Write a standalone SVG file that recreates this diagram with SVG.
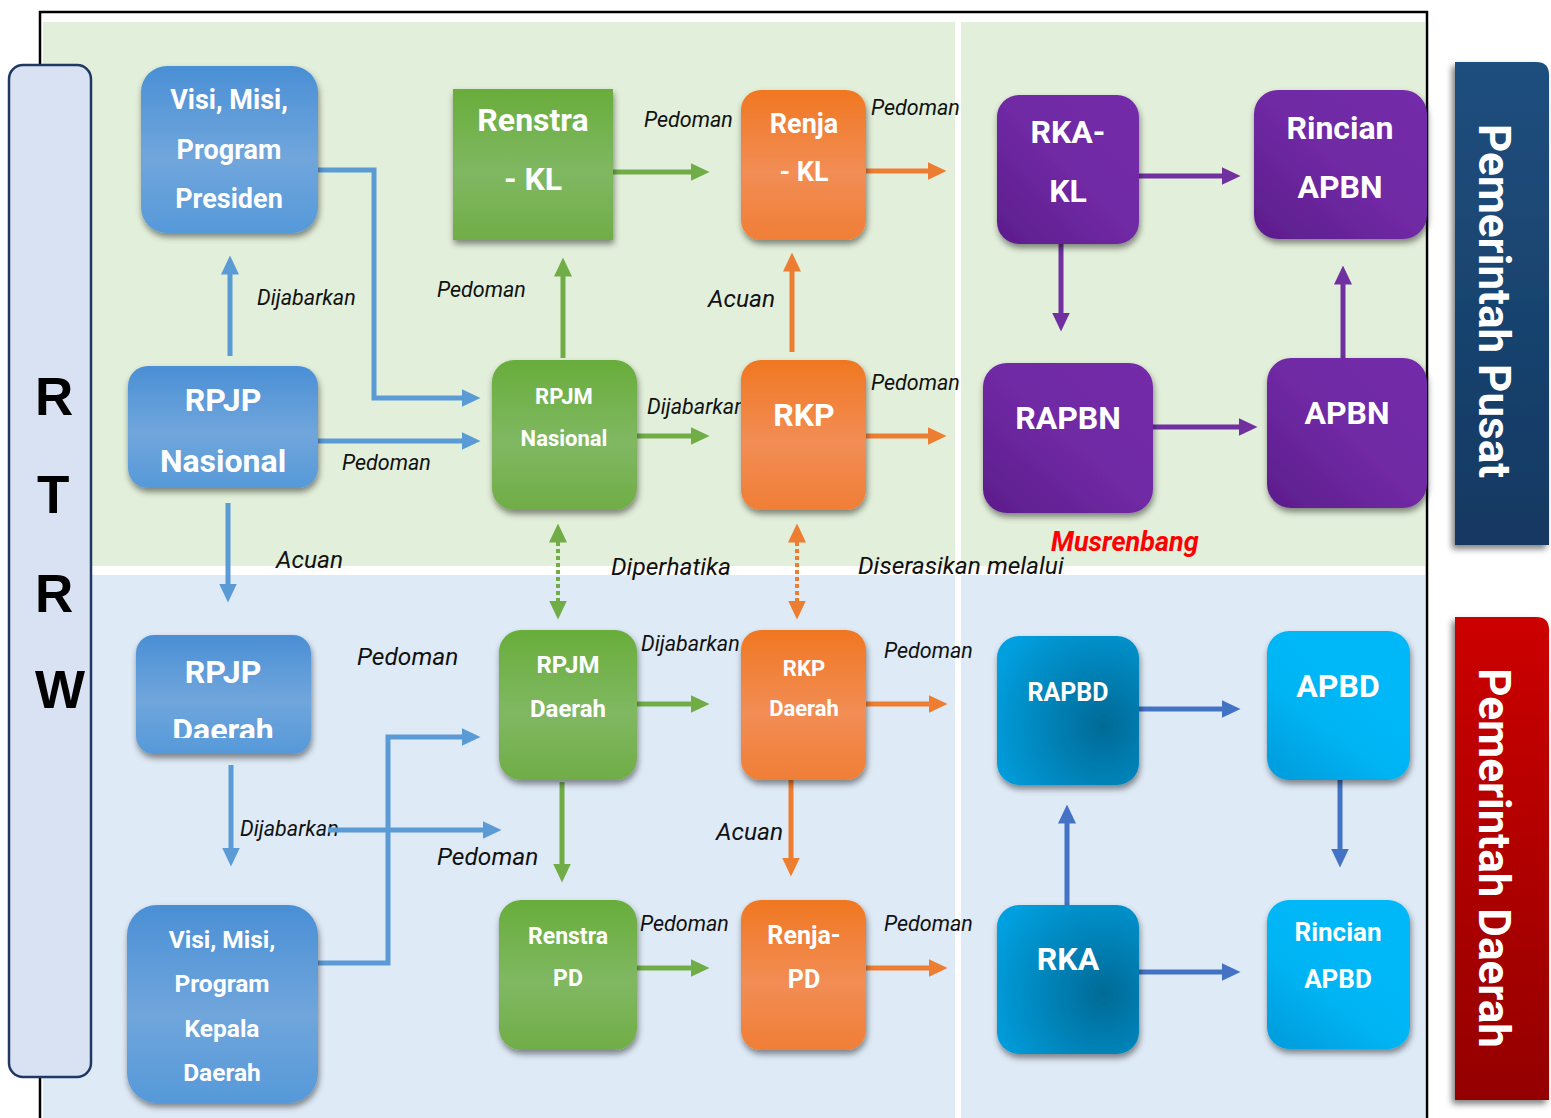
<svg xmlns="http://www.w3.org/2000/svg" width="1551" height="1118" viewBox="0 0 1551 1118">
<style>
.nt{font-family:Roboto,"Liberation Sans",sans-serif;font-weight:bold;fill:#fff;text-anchor:middle}
.lbl{font-family:Roboto,"Liberation Sans",sans-serif;font-style:italic;fill:#111}
.c{fill:none;stroke-width:5}
.cb{stroke:#5b9bd5;marker-end:url(#aB)}
.cg{stroke:#70ad47;marker-end:url(#aG)}
.co{stroke:#ed7d31;marker-end:url(#aO)}
.cp{stroke:#7030a0;marker-end:url(#aP)}
.cd{stroke:#4472c4;marker-end:url(#aD)}
.dot{fill:none;stroke-width:4;stroke-dasharray:4 3}
.rtrw{font-family:"Liberation Sans",Arial,sans-serif;font-weight:bold;font-size:53px;fill:#000}
.ban{font-family:Roboto,"Liberation Sans",sans-serif;font-weight:bold;font-size:44px;fill:#fff;text-anchor:middle}
</style>
<defs>
<marker id="aB" viewBox="0 0 19 18" markerWidth="19" markerHeight="18" refX="0.5" refY="9" markerUnits="userSpaceOnUse" orient="auto-start-reverse"><path d="M0,0 L19,9 L0,18 z" fill="#5b9bd5"/></marker>
<marker id="aG" viewBox="0 0 19 18" markerWidth="19" markerHeight="18" refX="0.5" refY="9" markerUnits="userSpaceOnUse" orient="auto-start-reverse"><path d="M0,0 L19,9 L0,18 z" fill="#70ad47"/></marker>
<marker id="aO" viewBox="0 0 19 18" markerWidth="19" markerHeight="18" refX="0.5" refY="9" markerUnits="userSpaceOnUse" orient="auto-start-reverse"><path d="M0,0 L19,9 L0,18 z" fill="#ed7d31"/></marker>
<marker id="aP" viewBox="0 0 19 18" markerWidth="19" markerHeight="18" refX="0.5" refY="9" markerUnits="userSpaceOnUse" orient="auto-start-reverse"><path d="M0,0 L19,9 L0,18 z" fill="#7030a0"/></marker>
<marker id="aD" viewBox="0 0 19 18" markerWidth="19" markerHeight="18" refX="0.5" refY="9" markerUnits="userSpaceOnUse" orient="auto-start-reverse"><path d="M0,0 L19,9 L0,18 z" fill="#4472c4"/></marker>
<filter id="sh" x="-20%" y="-20%" width="140%" height="140%"><feDropShadow dx="1" dy="4" stdDeviation="3" flood-color="#000" flood-opacity="0.45"/></filter>
<filter id="shb" x="-20%" y="-10%" width="140%" height="120%"><feDropShadow dx="-3" dy="4" stdDeviation="3" flood-color="#000" flood-opacity="0.5"/></filter>
<linearGradient id="gBlue" x1="0" y1="0" x2="0" y2="1"><stop offset="0" stop-color="#4a8fd5"/><stop offset="0.55" stop-color="#70a6dc"/><stop offset="1" stop-color="#5699d9"/></linearGradient>
<linearGradient id="gGreen" x1="0" y1="0" x2="0" y2="1"><stop offset="0" stop-color="#68ad3b"/><stop offset="0.55" stop-color="#80b862"/><stop offset="1" stop-color="#70ad47"/></linearGradient>
<linearGradient id="gOrange" x1="0" y1="0" x2="0" y2="1"><stop offset="0" stop-color="#f07722"/><stop offset="0.55" stop-color="#f28d55"/><stop offset="1" stop-color="#f07e36"/></linearGradient>
<linearGradient id="gPurple" x1="1" y1="0" x2="0" y2="1"><stop offset="0" stop-color="#7429a9"/><stop offset="0.5" stop-color="#7029a4"/><stop offset="1" stop-color="#5c1d8b"/></linearGradient>
<radialGradient id="gTeal" cx="0.75" cy="0.6" r="0.85"><stop offset="0" stop-color="#006a96"/><stop offset="1" stop-color="#00a0e0"/></radialGradient>
<linearGradient id="gCyan" x1="0.7" y1="0.3" x2="0.2" y2="1"><stop offset="0" stop-color="#00b8f8"/><stop offset="0.5" stop-color="#00b4f3"/><stop offset="1" stop-color="#009fdf"/></linearGradient>
<linearGradient id="gBanB" x1="0" y1="0" x2="0" y2="1"><stop offset="0" stop-color="#1e4f7e"/><stop offset="1" stop-color="#143862"/></linearGradient>
<linearGradient id="gBanR" x1="0" y1="0" x2="0" y2="1"><stop offset="0" stop-color="#cc0000"/><stop offset="1" stop-color="#940000"/></linearGradient>
<clipPath id="clipRPJPD"><rect x="136" y="635" width="175" height="103"/></clipPath>
</defs>

<g id="background">
<rect x="43" y="22" width="1382" height="544" fill="#e2efda"/>
<rect x="43" y="575" width="1382" height="543" fill="#deeaf6"/>
<rect x="955" y="22" width="6" height="1096" fill="#ffffff"/>
<path d="M40,1118 V12 H1427 V1118" fill="none" stroke="#000" stroke-width="2.5"/>
</g>

<g id="rtrw">
<rect x="9" y="65" width="82" height="1012" rx="14" fill="#d9e2f3" stroke="#1f3864" stroke-width="2.5"/>
<text class="rtrw" x="35" y="415">R</text>
<text class="rtrw" x="37" y="513">T</text>
<text class="rtrw" x="35" y="612">R</text>
<text class="rtrw" x="35" y="708">W</text>
</g>

<g id="banner-pusat">
<path d="M1455,62 H1536 Q1549,62 1549,75 V545 H1455 Z" fill="url(#gBanB)" filter="url(#shb)"/>
<text class="ban" transform="translate(1479,301) rotate(90)">Pemerintah Pusat</text>
</g>
<g id="banner-daerah">
<path d="M1455,617 H1536 Q1549,617 1549,630 V1100 H1455 Z" fill="url(#gBanR)" filter="url(#shb)"/>
<text class="ban" transform="translate(1479,858) rotate(90)">Pemerintah Daerah</text>
</g>

<g id="labels">
<text class="lbl" x="257" y="305" font-size="21.5">Dijabarkan</text>
<text class="lbl" x="437" y="297" font-size="21.5">Pedoman</text>
<text class="lbl" x="644" y="127" font-size="21.5">Pedoman</text>
<text class="lbl" x="871" y="115" font-size="21.5">Pedoman</text>
<text class="lbl" x="708" y="307" font-size="24.5">Acuan</text>
<text class="lbl" x="647" y="414" font-size="21.5">Dijabarkan</text>
<text class="lbl" x="871" y="390" font-size="21.5">Pedoman</text>
<text class="lbl" x="342" y="470" font-size="21.5">Pedoman</text>
<text class="lbl" x="276" y="568" font-size="24.5">Acuan</text>
<text class="lbl" x="611" y="575" font-size="24.5">Diperhatika</text>
<text class="lbl" x="858" y="574" font-size="24.5">Diserasikan melalui</text>
<text class="lbl" x="1051" y="551" font-size="27" font-weight="bold" style="fill:#ff0000">Musrenbang</text>
<text class="lbl" x="357" y="665" font-size="24.5">Pedoman</text>
<text class="lbl" x="641" y="651" font-size="21.5">Dijabarkan</text>
<text class="lbl" x="884" y="658" font-size="21.5">Pedoman</text>
<text class="lbl" x="240" y="836" font-size="21.5">Dijabarkan</text>
<text class="lbl" x="437" y="865" font-size="24.5">Pedoman</text>
<text class="lbl" x="716" y="840" font-size="24.5">Acuan</text>
<text class="lbl" x="640" y="931" font-size="21.5">Pedoman</text>
<text class="lbl" x="884" y="931" font-size="21.5">Pedoman</text>
</g>

<g id="connectors">
<path class="c cb" d="M230,356 V274"/>
<path class="c cb" d="M318,170 H374 V398 H462"/>
<path class="c cb" d="M318,441 H462"/>
<path class="c cb" d="M228,503 V584"/>
<path class="c cb" d="M231,765 V848"/>
<path class="c cb" d="M318,963 H388 V737 H462"/>
<path class="c cb" d="M328,830 H483"/>
<path class="c cg" d="M563,358 V276"/>
<path class="c cg" d="M613,172 H691"/>
<path class="c cg" d="M637,436 H691"/>
<path class="dot" stroke="#70ad47" d="M558,542 V601" marker-start="url(#aG)" marker-end="url(#aG)"/>
<path class="c cg" d="M637,704 H691"/>
<path class="c cg" d="M562,782 V864"/>
<path class="c cg" d="M637,968 H691"/>
<path class="c co" d="M866,171 H928"/>
<path class="c co" d="M792,352 V271"/>
<path class="c co" d="M866,436 H928"/>
<path class="dot" stroke="#ed7d31" d="M797,542 V601" marker-start="url(#aO)" marker-end="url(#aO)"/>
<path class="c co" d="M866,704 H929"/>
<path class="c co" d="M791,780 V858"/>
<path class="c co" d="M866,968 H929"/>
<path class="c cp" d="M1139,176 H1222"/>
<path class="c cp" d="M1061,244 V313"/>
<path class="c cp" d="M1153,427 H1239"/>
<path class="c cp" d="M1343,358 V284"/>
<path class="c cd" d="M1139,709 H1222"/>
<path class="c cd" d="M1067,905 V823"/>
<path class="c cd" d="M1340,780 V849"/>
<path class="c cd" d="M1139,972 H1222"/>
</g>

<g id="node-visi-presiden">
<rect x="141" y="66" width="177" height="167" rx="26" fill="url(#gBlue)" filter="url(#sh)"/>
<text class="nt" font-size="27"><tspan x="229" y="109">Visi, Misi,</tspan><tspan x="229" y="159">Program</tspan><tspan x="229" y="208">Presiden</tspan></text>
</g>
<g id="node-renstra-kl">
<rect x="453" y="89" width="160" height="151" fill="url(#gGreen)" filter="url(#sh)"/>
<text class="nt" font-size="32"><tspan x="533" y="131">Renstra</tspan><tspan x="533" y="190">- KL</tspan></text>
</g>
<g id="node-renja-kl">
<rect x="741" y="90" width="125" height="150" rx="20" fill="url(#gOrange)" filter="url(#sh)"/>
<text class="nt" font-size="27"><tspan x="804" y="133">Renja</tspan><tspan x="804" y="181">- KL</tspan></text>
</g>
<g id="node-rka-kl">
<rect x="997" y="95" width="142" height="149" rx="22" fill="url(#gPurple)" filter="url(#sh)"/>
<text class="nt" font-size="32"><tspan x="1068" y="143">RKA-</tspan><tspan x="1068" y="202">KL</tspan></text>
</g>
<g id="node-rincian-apbn">
<rect x="1254" y="90" width="173" height="149" rx="24" fill="url(#gPurple)" filter="url(#sh)"/>
<text class="nt" font-size="32"><tspan x="1340" y="139">Rincian</tspan><tspan x="1340" y="198">APBN</tspan></text>
</g>
<g id="node-rpjp-nasional">
<rect x="128" y="366" width="190" height="122" rx="20" fill="url(#gBlue)" filter="url(#sh)"/>
<text class="nt" font-size="32"><tspan x="223" y="411">RPJP</tspan><tspan x="223" y="472">Nasional</tspan></text>
</g>
<g id="node-rpjm-nasional">
<rect x="492" y="360" width="145" height="150" rx="22" fill="url(#gGreen)" filter="url(#sh)"/>
<text class="nt" font-size="22"><tspan x="564" y="404">RPJM</tspan><tspan x="564" y="446">Nasional</tspan></text>
</g>
<g id="node-rkp">
<rect x="741" y="360" width="125" height="150" rx="20" fill="url(#gOrange)" filter="url(#sh)"/>
<text class="nt" font-size="32" x="804" y="426">RKP</text>
</g>
<g id="node-rapbn">
<rect x="983" y="363" width="170" height="150" rx="24" fill="url(#gPurple)" filter="url(#sh)"/>
<text class="nt" font-size="32" x="1068" y="429">RAPBN</text>
</g>
<g id="node-apbn">
<rect x="1267" y="358" width="160" height="150" rx="24" fill="url(#gPurple)" filter="url(#sh)"/>
<text class="nt" font-size="32" x="1347" y="424">APBN</text>
</g>
<g id="node-rpjp-daerah">
<rect x="136" y="635" width="175" height="119" rx="18" fill="url(#gBlue)" filter="url(#sh)"/>
<text class="nt" font-size="32" clip-path="url(#clipRPJPD)"><tspan x="223" y="683">RPJP</tspan><tspan x="223" y="741">Daerah</tspan></text>
</g>
<g id="node-rpjm-daerah">
<rect x="499" y="630" width="138" height="150" rx="22" fill="url(#gGreen)" filter="url(#sh)"/>
<text class="nt" font-size="24"><tspan x="568" y="673">RPJM</tspan><tspan x="568" y="717">Daerah</tspan></text>
</g>
<g id="node-rkp-daerah">
<rect x="741" y="630" width="125" height="150" rx="20" fill="url(#gOrange)" filter="url(#sh)"/>
<text class="nt" font-size="22"><tspan x="804" y="676">RKP</tspan><tspan x="804" y="716">Daerah</tspan></text>
</g>
<g id="node-rapbd">
<rect x="997" y="636" width="142" height="149" rx="22" fill="url(#gTeal)" filter="url(#sh)"/>
<text class="nt" font-size="25" x="1068" y="701">RAPBD</text>
</g>
<g id="node-apbd">
<rect x="1267" y="631" width="143" height="149" rx="22" fill="url(#gCyan)" filter="url(#sh)"/>
<text class="nt" font-size="32" x="1338" y="697">APBD</text>
</g>
<g id="node-visi-kepala-daerah">
<rect x="127" y="905" width="191" height="198" rx="30" fill="url(#gBlue)" filter="url(#sh)"/>
<text class="nt" font-size="24.5"><tspan x="222" y="948">Visi, Misi,</tspan><tspan x="222" y="992">Program</tspan><tspan x="222" y="1037">Kepala</tspan><tspan x="222" y="1081">Daerah</tspan></text>
</g>
<g id="node-renstra-pd">
<rect x="499" y="900" width="138" height="150" rx="22" fill="url(#gGreen)" filter="url(#sh)"/>
<text class="nt" font-size="23"><tspan x="568" y="944">Renstra</tspan><tspan x="568" y="986">PD</tspan></text>
</g>
<g id="node-renja-pd">
<rect x="741" y="900" width="125" height="150" rx="20" fill="url(#gOrange)" filter="url(#sh)"/>
<text class="nt" font-size="25"><tspan x="804" y="944">Renja-</tspan><tspan x="804" y="988">PD</tspan></text>
</g>
<g id="node-rka">
<rect x="997" y="905" width="142" height="149" rx="22" fill="url(#gTeal)" filter="url(#sh)"/>
<text class="nt" font-size="32" x="1068" y="970">RKA</text>
</g>
<g id="node-rincian-apbd">
<rect x="1267" y="900" width="143" height="149" rx="22" fill="url(#gCyan)" filter="url(#sh)"/>
<text class="nt" font-size="26"><tspan x="1338" y="941">Rincian</tspan><tspan x="1338" y="988">APBD</tspan></text>
</g>
</svg>
